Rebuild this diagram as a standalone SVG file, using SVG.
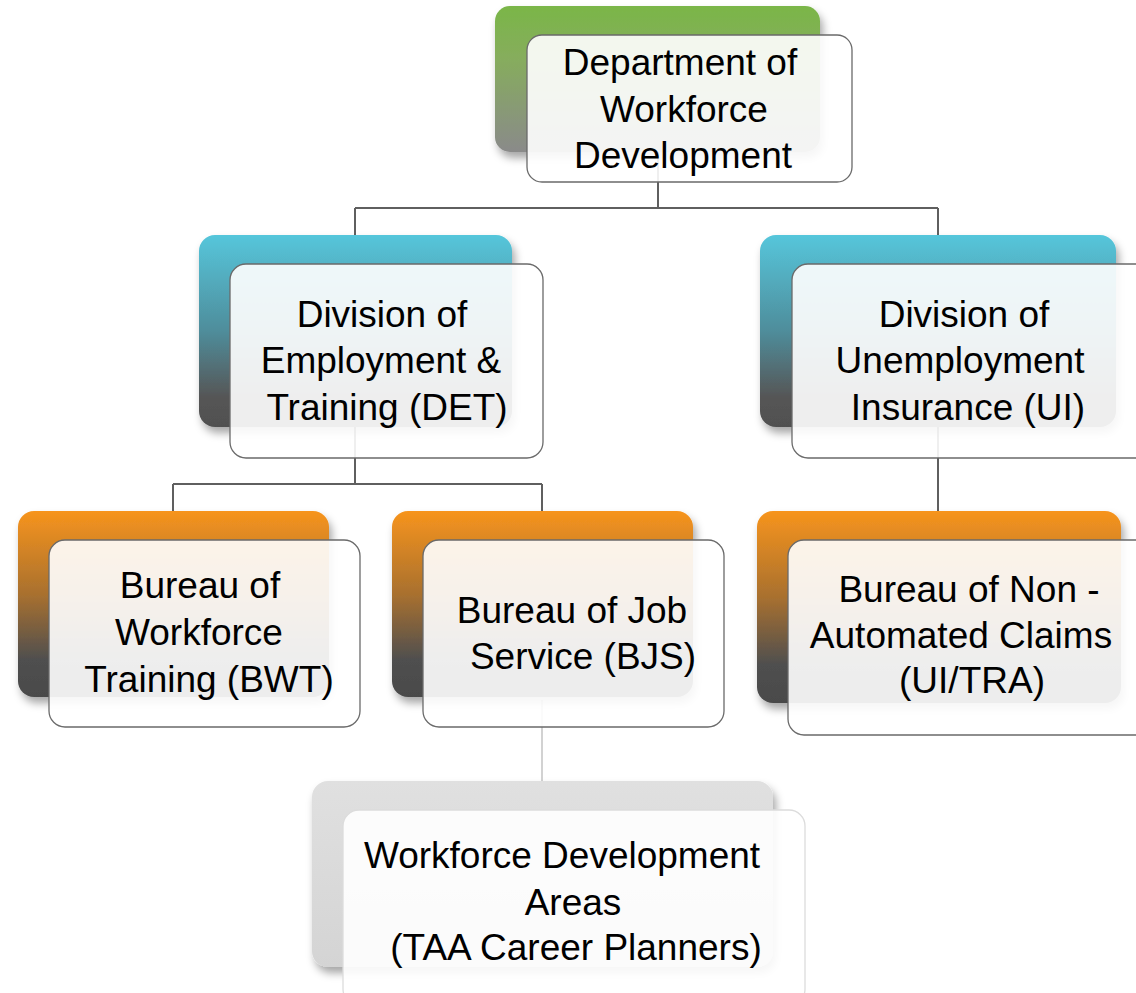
<svg xmlns="http://www.w3.org/2000/svg" width="1136" height="993" viewBox="0 0 1136 993">
<defs>
<linearGradient id="gGreen" x1="0" y1="0" x2="0" y2="1"><stop offset="0" stop-color="#7ab648"/><stop offset="0.35" stop-color="#86ad5c"/><stop offset="1" stop-color="#8a8a8a"/></linearGradient>
<linearGradient id="gBlue" x1="0" y1="0" x2="0" y2="1"><stop offset="0" stop-color="#55c6db"/><stop offset="0.5" stop-color="#4f8d9b"/><stop offset="0.85" stop-color="#555555"/><stop offset="1" stop-color="#505050"/></linearGradient>
<linearGradient id="gOrange" x1="0" y1="0" x2="0" y2="1"><stop offset="0" stop-color="#f7941d"/><stop offset="0.45" stop-color="#a8702f"/><stop offset="0.8" stop-color="#4f4f4f"/><stop offset="1" stop-color="#4a4a4a"/></linearGradient>
<linearGradient id="gGray" x1="0" y1="0" x2="0" y2="1"><stop offset="0" stop-color="#e0e0e0"/><stop offset="1" stop-color="#d4d4d4"/></linearGradient>
<filter id="sh" x="-10%" y="-10%" width="125%" height="130%"><feDropShadow dx="3" dy="6" stdDeviation="4" flood-color="#000" flood-opacity="0.35"/></filter>
</defs>
<style>
.back{filter:url(#sh)}
.front{fill:#ffffff;fill-opacity:0.9;stroke:#6a6a6a;stroke-width:1.3}
.conn{fill:none;stroke:#5f5f5f;stroke-width:2}
.connL{fill:none;stroke:#d2d2d2;stroke-width:2}
text{font-family:"Liberation Sans",Arial,sans-serif;font-size:37px;fill:#000;text-anchor:middle}
</style>
<g id="connectors">
<path class="conn" d="M658 100 V208 M355 208 H938 M355 208 V300 M938 208 V300"/>
<path class="conn" d="M355 330 V484 M173 484 H542 M173 484 V560 M542 484 V560"/>
<path class="conn" d="M938 330 V560"/>
<path class="connL" d="M542 700 V820"/>
</g>
<g id="n-dwd">
<rect class="back" x="495" y="6" width="325" height="146" rx="15" fill="url(#gGreen)"/>
<rect class="front" x="527" y="35" width="325" height="147" rx="15"/>
<text x="680" y="75">Department of</text>
<text x="684" y="122">Workforce</text>
<text x="683" y="168">Development</text>
</g>
<g id="n-det">
<rect class="back" x="199" y="235" width="313" height="192" rx="16" fill="url(#gBlue)"/>
<rect class="front" x="230" y="264" width="313" height="194" rx="16"/>
<text x="382" y="327">Division of</text>
<text x="381" y="373">Employment &amp;</text>
<text x="387" y="420">Training (DET)</text>
</g>
<g id="n-ui">
<rect class="back" x="760" y="235" width="356" height="192" rx="16" fill="url(#gBlue)"/>
<rect class="front" x="792" y="264" width="360" height="194" rx="16"/>
<text x="964" y="327">Division of</text>
<text x="960" y="373">Unemployment</text>
<text x="968" y="420">Insurance (UI)</text>
</g>
<g id="n-bwt">
<rect class="back" x="18" y="511" width="311" height="186" rx="16" fill="url(#gOrange)"/>
<rect class="front" x="49" y="540" width="311" height="187" rx="16"/>
<text x="200" y="598">Bureau of</text>
<text x="199" y="645">Workforce</text>
<text x="209" y="692">Training (BWT)</text>
</g>
<g id="n-bjs">
<rect class="back" x="392" y="511" width="301" height="186" rx="16" fill="url(#gOrange)"/>
<rect class="front" x="423" y="540" width="301" height="187" rx="16"/>
<text x="572" y="623">Bureau of Job</text>
<text x="583" y="669">Service (BJS)</text>
</g>
<g id="n-nac">
<rect class="back" x="757" y="511" width="364" height="192" rx="16" fill="url(#gOrange)"/>
<rect class="front" x="788" y="540" width="370" height="195" rx="16"/>
<text x="969" y="602">Bureau of Non -</text>
<text x="961" y="648">Automated Claims</text>
<text x="972" y="693">(UI/TRA)</text>
</g>
<g id="n-wda">
<rect class="back" x="312" y="781" width="461" height="186" rx="16" fill="url(#gGray)"/>
<rect class="front" x="343" y="810" width="462" height="195" rx="16" style="stroke:#dcdcdc"/>
<text x="562" y="868">Workforce Development</text>
<text x="573" y="915">Areas</text>
<text x="576" y="960">(TAA Career Planners)</text>
</g>
</svg>
